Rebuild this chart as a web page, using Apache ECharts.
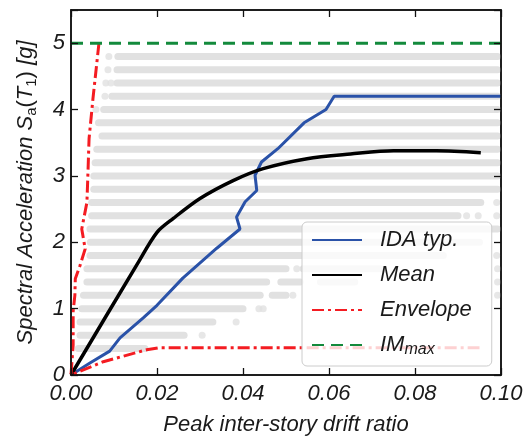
<!DOCTYPE html>
<html>
<head>
<meta charset="utf-8">
<script src="https://cdn.jsdelivr.net/npm/echarts@6/dist/echarts.min.js"></script>
<style>
  html, body { margin: 0; padding: 0; background: #ffffff; }
  #chart { width: 528px; height: 441px; }
</style>
</head>
<body>
<div id="chart"></div>
<script>
// Typical IDA curve (drift ratio, Sa [g])
const idaDrift = [0, 0.0044, 0.009, 0.0114, 0.0168, 0.020, 0.026, 0.0339, 0.0393, 0.0385, 0.0405, 0.0432, 0.0428, 0.0443, 0.0481, 0.0542, 0.0593, 0.0612, 0.100];
const idaSa    = [0, 0.18, 0.36, 0.56, 0.86, 1.05, 1.46, 1.91, 2.20, 2.38, 2.61, 2.78, 3.01, 3.21, 3.41, 3.80, 4.00, 4.20, 4.20];

// Mean curve
const meanDrift = [0, 0.0153, 0.020, 0.0238, 0.030, 0.0377, 0.0447, 0.0549, 0.065, 0.075, 0.085, 0.0953];
const meanSa    = [0, 1.66, 2.15, 2.36, 2.66, 2.93, 3.11, 3.26, 3.33, 3.38, 3.38, 3.35];

// Envelope (upper branch from the top down to the origin, then the lower branch)
const envDrift = [0.0065, 0.0051, 0.0042, 0.0039, 0.0037, 0.0025, 0.0033, 0.0021, 0.0010, 0.0009, 0.0005, 0.0005, 0, 0.0075, 0.0176, 0.0203, 0.095];
const envSa    = [5.00, 4.16, 3.56, 2.96, 2.60, 2.20, 1.90, 1.65, 1.45, 1.20, 0.96, 0.45, 0, 0.20, 0.38, 0.41, 0.41];

// Maximum intensity level
const imMaxDrift = [0, 0.10];
const imMaxSa    = [5, 5];

// Clouds of single-record results at each intensity step: start/end of dense bands
const bandIM    = [0.4, 0.6, 0.8, 1.0, 1.2, 1.2, 1.4, 1.4, 1.4, 1.6, 1.6, 1.8, 2.0, 2.2, 2.4, 2.6, 2.8, 3.0, 3.2, 3.4, 3.6, 3.8, 4.0, 4.2, 4.4, 4.6, 4.8];
const bandStart = [0.0017, 0.0021, 0.0021, 0.0025, 0.0029, 0.0468, 0.0037, 0.0488, 0.058, 0.0037, 0.054, 0.0044, 0.0045, 0.0044, 0.0048, 0.0048, 0.0053, 0.0053, 0.0056, 0.0060, 0.0072, 0.0064, 0.0076, 0.0095, 0.0107, 0.0107, 0.0109];
const bandEnd   = [0.0172, 0.0263, 0.0330, 0.0400, 0.0440, 0.0500, 0.0455, 0.0533, 0.066, 0.0500, 0.072, 0.0866, 0.0950, 0.0992, 0.0900, 0.0953, 0.0992, 0.0992, 0.0992, 0.0992, 0.0992, 0.0992, 0.0992, 0.0992, 0.0992, 0.0992, 0.0992];

// Isolated record results
const dotDrift = [0.0305, 0.0384, 0.0437, 0.0447, 0.0516, 0.0525, 0.0992, 0.0992, 0.0992, 0.0990, 0.0920, 0.0947, 0.0990, 0.0990, 0.0088, 0.0086, 0.0081, 0.0093, 0.0079, 0.0058];
const dotIM    = [0.6, 0.8, 1.0, 1.0, 1.2, 1.6, 1.2, 1.4, 1.6, 1.8, 2.4, 2.4, 2.4, 2.6, 4.8, 4.6, 4.4, 4.4, 4.2, 4.0];

// Axis ticks
const xTickStep = 0.02;
const yTickStep = 1;

const FONT = 'Liberation Sans';
const TEXT = '#1a1a1a';
const GRAY = '#e1e1e1';
const BLUE = '#2a52a8';
const RED = '#f41c22';
const GREEN = '#138a3c';

const pairs = (xs, ys) => xs.map((x, i) => [x, ys[i]]);

const cloudSeries = bandIM.map((im, i) => ({
  type: 'line',
  data: [[bandStart[i], im], [bandEnd[i], im]],
  symbol: 'none',
  silent: true,
  z: 1,
  lineStyle: { color: GRAY, width: 7, cap: 'round' }
}));

// Frame ticks point into the plotting area
const axisLine = () => ({ show: true, onZero: false, lineStyle: { color: '#111111', width: 1.5 } });
const axisTick = () => ({ show: true, inside: false, length: -7, lineStyle: { color: '#111111', width: 1.3 } });

const chart = echarts.init(document.getElementById('chart'), null, { renderer: 'canvas' });
chart.setOption({
  animation: false,
  backgroundColor: '#ffffff',
  grid: {
    left: 71, top: 10, right: 27, bottom: 64, containLabel: false,
    show: true, borderColor: '#111111', borderWidth: 1.5, backgroundColor: 'transparent'
  },
  xAxis: [{
    type: 'value', min: 0, max: 0.1, interval: xTickStep, position: 'bottom', z: 10,
    axisLine: axisLine(),
    axisTick: axisTick(),
    splitLine: { show: false },
    axisLabel: {
      fontFamily: FONT, fontStyle: 'italic', fontSize: 22, color: TEXT, margin: 8,
      formatter: v => v.toFixed(2)
    },
    name: 'Peak inter-story drift ratio',
    nameLocation: 'middle', nameGap: 39,
    nameTextStyle: { fontFamily: FONT, fontStyle: 'italic', fontSize: 22, color: TEXT }
  }, {
    type: 'value', min: 0, max: 0.1, interval: xTickStep, position: 'top', z: 10,
    axisLine: axisLine(),
    axisTick: axisTick(),
    splitLine: { show: false },
    axisLabel: { show: false }
  }],
  yAxis: [{
    type: 'value', min: 0, max: 5.5, interval: yTickStep, position: 'left', z: 10,
    axisLine: axisLine(),
    axisTick: axisTick(),
    splitLine: { show: false },
    axisLabel: {
      fontFamily: FONT, fontStyle: 'italic', fontSize: 22, color: TEXT, margin: 6,
      formatter: v => (Math.abs(v - Math.round(v)) < 1e-9 ? String(Math.round(v)) : '')
    },
    name: 'Spectral Acceleration {i|S}{s|a}{n|(}{i|T}{s|1}{n|)} [g]',
    nameLocation: 'middle', nameRotate: 90, nameGap: 32,
    nameTextStyle: {
      fontFamily: FONT, fontStyle: 'italic', fontSize: 22, color: TEXT, lineHeight: 26,
      rich: {
        i: { fontFamily: FONT, fontStyle: 'italic', fontSize: 22, color: TEXT, lineHeight: 26 },
        n: { fontFamily: FONT, fontStyle: 'normal', fontSize: 22, color: TEXT, lineHeight: 26 },
        s: { fontFamily: FONT, fontStyle: 'normal', fontSize: 15, color: TEXT, lineHeight: 15, verticalAlign: 'bottom' }
      }
    }
  }, {
    type: 'value', min: 0, max: 5.5, interval: yTickStep, position: 'right', z: 10,
    axisLine: axisLine(),
    axisTick: axisTick(),
    splitLine: { show: false },
    axisLabel: { show: false }
  }],
  legend: {
    data: ['IDA typ.', 'Mean', 'Envelope', 'IM_max'],
    orient: 'vertical',
    left: 302, top: 222, z: 12,
    padding: [5, 20, 8, 9],
    itemWidth: 50, itemHeight: 12, itemGap: 9,
    backgroundColor: 'rgba(255,255,255,0.8)',
    borderColor: '#cccccc', borderWidth: 1, borderRadius: 5,
    itemStyle: { opacity: 0 },
    formatter: name => (name === 'IM_max' ? '{a|IM}{s|max}' : name),
    textStyle: {
      fontFamily: FONT, fontStyle: 'italic', fontSize: 22, color: TEXT, lineHeight: 26,
      padding: [0, 0, 0, 13],
      rich: {
        a: { fontFamily: FONT, fontStyle: 'italic', fontSize: 22, color: TEXT, lineHeight: 26 },
        s: { fontFamily: FONT, fontStyle: 'italic', fontSize: 16, color: TEXT, lineHeight: 16, verticalAlign: 'bottom' }
      }
    }
  },
  series: [
    ...cloudSeries,
    {
      type: 'scatter', data: pairs(dotDrift, dotIM), symbol: 'circle', symbolSize: 7,
      silent: true, z: 1, itemStyle: { color: GRAY }
    },
    {
      name: 'IDA typ.', type: 'line', data: pairs(idaDrift, idaSa), symbol: 'none', z: 3,
      itemStyle: { color: BLUE },
      lineStyle: { color: BLUE, width: 3 }
    },
    {
      name: 'Mean', type: 'line', data: pairs(meanDrift, meanSa), symbol: 'none', smooth: 0.3, z: 4,
      itemStyle: { color: '#000000' },
      lineStyle: { color: '#000000', width: 3.5 }
    },
    {
      name: 'Envelope', type: 'line', data: pairs(envDrift, envSa), symbol: 'none', z: 5,
      itemStyle: { color: RED },
      lineStyle: { color: RED, width: 3, type: [12, 4, 3, 4] }
    },
    {
      // drawn on the top/right frame axes (same scales) so those axes are laid out with ticks
      name: 'IM_max', type: 'line', xAxisIndex: 1, yAxisIndex: 1,
      data: pairs(imMaxDrift, imMaxSa), symbol: 'none', z: 6,
      itemStyle: { color: GREEN },
      lineStyle: { color: GREEN, width: 3, type: [12, 7] }
    }
  ]
});
</script>
</body>
</html>
